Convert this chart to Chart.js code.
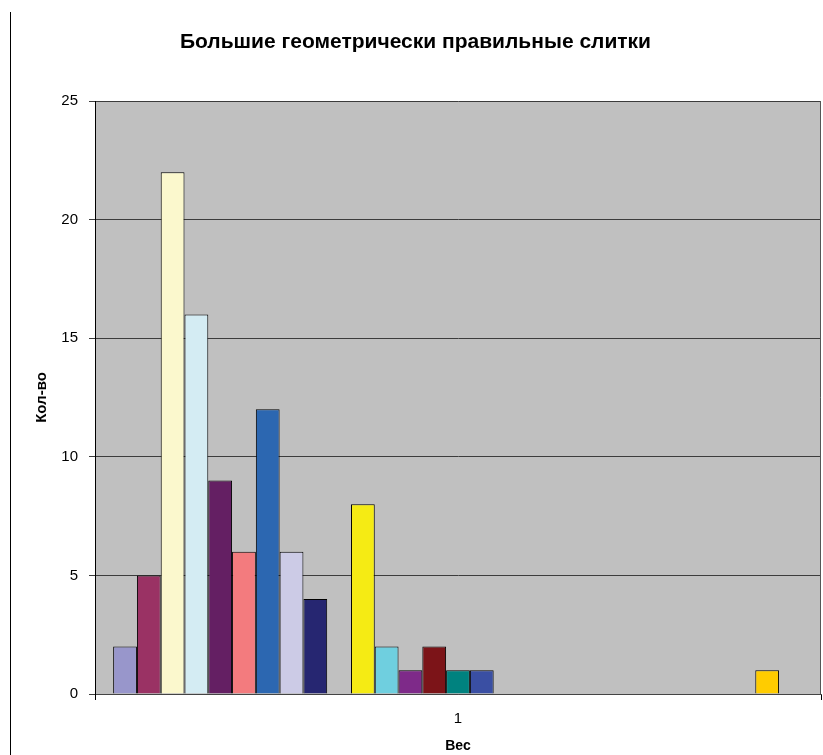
<!DOCTYPE html>
<html>
<head>
<meta charset="utf-8">
<script src="https://cdn.jsdelivr.net/npm/chart.js@4/dist/chart.umd.min.js"></script>
<style>
  html, body { margin: 0; padding: 0; background: #fff; }
  #wrap { position: relative; width: 823px; height: 755px; }
  #edge { position: absolute; left: 10px; top: 12px; width: 1px; height: 743px; background: #000; }
</style>
</head>
<body>
<div id="wrap">
  <div id="edge"></div>
  <canvas id="chart" width="823" height="755"></canvas>
</div>
<script>
// one category on the x axis
var categories = ["1"];

// bar values, one per series, in the order they stand in the group
var seriesValues = [2, 5, 22, 16, 9, 6, 12, 6, 4, 0, 8, 2, 1, 2, 1, 1,
                    0, 0, 0, 0, 0, 0, 0, 0, 0, 0, 0, 1, 0];

var seriesColors = [
  "#9896cb", "#9a3264", "#fbf8cd", "#d4ecf3", "#641f63", "#f37b7e",
  "#2c67b1", "#cccbe6", "#262671", "#ff00ff", "#f5eb14", "#6fcfdf",
  "#7e2a89", "#7c1418", "#00827f", "#3a4fa3", "#00ccff", "#ccffff",
  "#ccffcc", "#ffff99", "#99ccff", "#ff99cc", "#cc99ff", "#ffcc99",
  "#3366ff", "#33cccc", "#99cc00", "#ffcc00", "#ff9900"
];

var yTicks = [0, 5, 10, 15, 20, 25];

var datasets = seriesValues.map(function (v, i) {
  return {
    label: "Ряд" + (i + 1),
    data: [v],
    backgroundColor: seriesColors[i],
    borderColor: "#000",
    borderWidth: 1,
    categoryPercentage: 0.95,
    barPercentage: 1
  };
});

// grey plot area like excel
var plotBack = {
  id: "plotBack",
  beforeDraw: function (chart) {
    var a = chart.chartArea, ctx = chart.ctx;
    ctx.save();
    ctx.fillStyle = "#c0c0c0";
    ctx.fillRect(a.left, a.top, a.right - a.left, a.bottom - a.top);
    ctx.restore();
  },
  afterDraw: function (chart) {
    var a = chart.chartArea, ctx = chart.ctx;
    ctx.save();
    ctx.strokeStyle = "#555";
    ctx.lineWidth = 1;
    ctx.beginPath();
    ctx.moveTo(Math.round(a.right) - 0.5, a.top);
    ctx.lineTo(Math.round(a.right) - 0.5, a.bottom);
    ctx.stroke();
    ctx.restore();
  }
};

var font = "'Liberation Sans', Arial, sans-serif";

new Chart(document.getElementById("chart"), {
  type: "bar",
  data: { labels: categories, datasets: datasets },
  options: {
    responsive: false,
    animation: false,
    layout: { padding: { left: 10, right: 2, top: 0, bottom: 0 } },
    plugins: {
      legend: { display: false },
      tooltip: { enabled: false },
      title: {
        display: true,
        text: "Большие геометрически правильные слитки",
        color: "#000",
        font: { family: font, size: 21, weight: "bold" },
        padding: { top: 30, bottom: 45.8 }
      }
    },
    scales: {
      x: {
        afterFit: function (s) { s.height = 61; },
        grid: { display: true, drawOnChartArea: false, tickLength: 6, color: "#000", offset: true },
        border: { display: true, color: "#444", width: 1 },
        ticks: { color: "#000", padding: 10, font: { family: font, size: 15 } },
        title: {
          display: true, text: "Вес", color: "#000",
          font: { family: font, size: 14, weight: "bold" },
          padding: { top: 0, bottom: 0 }
        }
      },
      y: {
        min: 0, max: 25,
        afterFit: function (s) { s.width = 85; },
        afterBuildTicks: function (s) { s.ticks = yTicks.map(function (v) { return { value: v }; }); },
        grid: { color: "#3c3c3c", tickLength: 6, lineWidth: 1 },
        border: { display: true, color: "#000", width: 1 },
        ticks: { color: "#000", padding: 11, font: { family: font, size: 15 } },
        title: {
          display: true, text: "Кол-во", color: "#000",
          font: { family: font, size: 15, weight: "bold" },
          padding: { top: 23, bottom: 0 }
        }
      }
    }
  },
  plugins: [plotBack]
});
</script>
</body>
</html>
